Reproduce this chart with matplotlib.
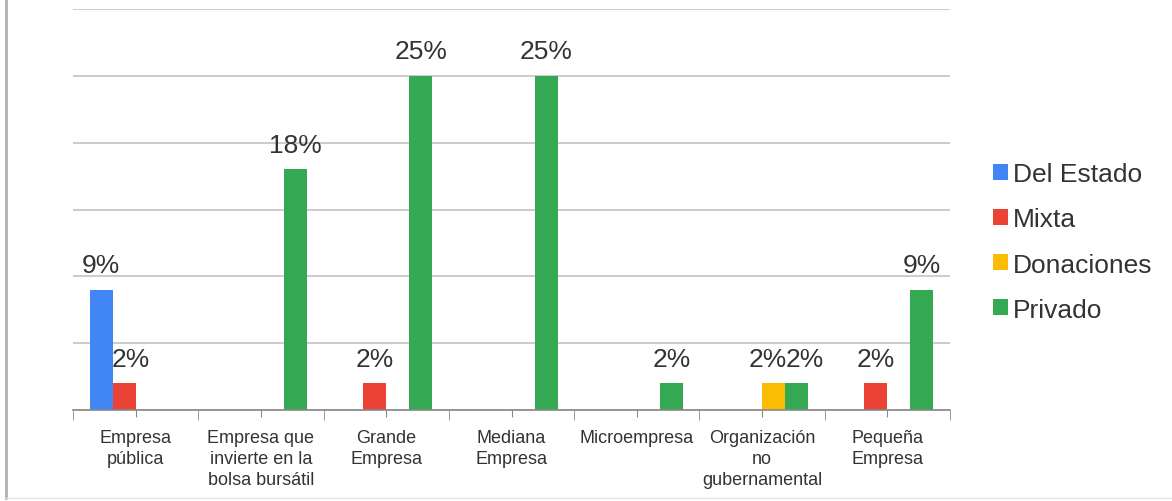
import numpy as np
import matplotlib.pyplot as plt
from matplotlib.lines import Line2D

plt.rcParams['font.family'] = ['Liberation Sans', 'DejaVu Sans']

categorias = ['Empresa\npública', 'Empresa que\ninvierte en la\nbolsa bursátil', 'Grande\nEmpresa',
              'Mediana\nEmpresa', 'Microempresa', 'Organización\nno\ngubernamental', 'Pequeña\nEmpresa']
series = ['Del Estado', 'Mixta', 'Donaciones', 'Privado']
colores = ['#4285F4', '#EA4335', '#FBBC04', '#34A853']

# porcentajes por tipo de financiamiento (None = sin barra)
del_estado = [9, None, None, None, None, None, None]
mixta = [2, None, 2, None, None, None, 2]
donaciones = [None, None, None, None, None, 2, None]
privado = [None, 18, 25, 25, 2, 2, 9]
valores = [del_estado, mixta, donaciones, privado]

# desplazamiento horizontal (px) de algunas etiquetas para que no se pisen
ajuste_x = {(1, 0): 7, (2, 5): -6, (3, 5): 8}

fig = plt.figure(figsize=(11.72, 5.02), dpi=100)
ax = fig.add_axes([73 / 1172, 1 - 411 / 502, 877 / 1172, 401 / 502])

x = np.arange(len(categorias))
ancho = 0.184
for k, (nombre, vals, col) in enumerate(zip(series, valores, colores)):
    pos = x + (k - 1.5) * ancho
    alto = [v if v is not None else 0 for v in vals]
    ax.bar(pos, alto, width=ancho, color=col, label=nombre, zorder=3)
    for i, v in enumerate(vals):
        if v is None:
            continue
        ax.annotate(f'{v}%', (pos[i], v), xytext=(ajuste_x.get((k, i), 0) * 0.72, 9),
                    textcoords='offset points', ha='center', va='bottom',
                    fontsize=19, color='#333333')

ax.set_xlim(-0.5, len(categorias) - 0.5)
ax.set_ylim(0, 30)
ax.set_yticks(np.arange(0, 31, 5))
ax.yaxis.grid(True, color='#c4c4c4', linewidth=1.2, zorder=0)
ax.tick_params(axis='y', left=False, labelleft=False)

ax.set_xticks(x)
ax.set_xticklabels(categorias, fontsize=13, color='#333333', linespacing=1.3)
ax.set_xticks(np.arange(-0.5, len(categorias)), minor=True)
ax.tick_params(axis='x', which='major', length=5, color='#888888', pad=9)
ax.tick_params(axis='x', which='minor', length=7, color='#888888')

for s in ['top', 'right', 'left']:
    ax.spines[s].set_visible(False)
ax.spines['bottom'].set_color('#888888')
ax.spines['bottom'].set_linewidth(1.2)
ax.spines['bottom'].set_zorder(4)

leg = ax.legend(loc='center left', bbox_to_anchor=(993 / 1172, 1 - 243 / 502),
                bbox_transform=fig.transFigure, frameon=False, fontsize=19,
                handlelength=0.55, handleheight=0.55, handletextpad=0.2,
                labelspacing=0.8, borderpad=0, borderaxespad=0)
for t in leg.get_texts():
    t.set_color('#333333')

# marco gris del lado izquierdo y abajo
fig.add_artist(Line2D([5.5 / 1172, 5.5 / 1172], [3 / 502, 1], transform=fig.transFigure,
                      color='#b0b0b0', linewidth=2))
fig.add_artist(Line2D([5.5 / 1172, 1], [3 / 502, 3 / 502], transform=fig.transFigure,
                      color='#e6e6e6', linewidth=1))

fig.savefig('out.png', dpi=100)
